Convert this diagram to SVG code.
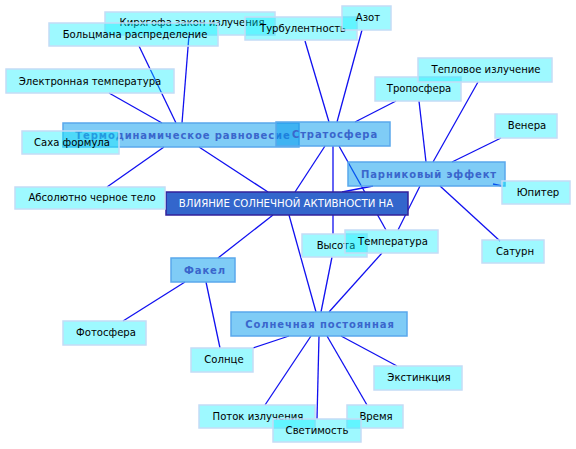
<svg xmlns="http://www.w3.org/2000/svg" width="576" height="449" viewBox="0 0 576 449">
<style>
.leaf{fill:#00eeff;fill-opacity:0.38;stroke:#c4dcf6;stroke-width:1.5}
.cat{fill:#0099ee;fill-opacity:0.5;stroke:#5aa8ec;stroke-width:1.5}
.ctr{fill:#3366cc;stroke:#33229a;stroke-width:1.5}
text{font-family:"DejaVu Sans","Liberation Sans",sans-serif;text-anchor:middle}
.lt{font-size:10.1px;fill:#000}
.ct{font-size:10px;font-weight:bold;fill:#3a66cc;letter-spacing:0.9px}
.mt{font-size:10.2px;fill:#fff}
#edges line{stroke:#1010f0;stroke-width:1.3}
</style>
<rect width="576" height="449" fill="#fff"/>
<g id="edges">
<line x1="139" y1="46" x2="176" y2="123"/>
<line x1="189" y1="35" x2="182" y2="123"/>
<line x1="109" y1="93" x2="162" y2="123"/>
<line x1="164" y1="147" x2="107" y2="187"/>
<line x1="199" y1="147" x2="268" y2="192"/>
<line x1="305" y1="41" x2="329" y2="122"/>
<line x1="362" y1="30" x2="337" y2="122"/>
<line x1="396" y1="101" x2="355" y2="122"/>
<line x1="325" y1="146" x2="295" y2="192"/>
<line x1="333" y1="146" x2="333" y2="234"/>
<line x1="339" y1="146" x2="386" y2="230"/>
<line x1="419" y1="101" x2="426" y2="162"/>
<line x1="478" y1="82" x2="433" y2="162"/>
<line x1="501" y1="138" x2="452" y2="162"/>
<line x1="493" y1="184" x2="502" y2="186"/>
<line x1="373" y1="186" x2="342" y2="192"/>
<line x1="440" y1="186" x2="500" y2="241"/>
<line x1="420" y1="186" x2="398" y2="230"/>
<line x1="273" y1="215" x2="218" y2="258"/>
<line x1="289" y1="215" x2="316" y2="312"/>
<line x1="332" y1="257" x2="321" y2="312"/>
<line x1="382" y1="253" x2="329" y2="312"/>
<line x1="289" y1="336" x2="253" y2="348"/>
<line x1="311" y1="336" x2="265" y2="405"/>
<line x1="319" y1="336" x2="317" y2="419"/>
<line x1="327" y1="336" x2="367" y2="405"/>
<line x1="341" y1="336" x2="397" y2="366"/>
<line x1="185" y1="282" x2="123" y2="321"/>
<line x1="206" y1="282" x2="220" y2="348"/>
</g>
<g id="n-thermo"><rect class="cat" x="63" y="123" width="236" height="24"/><text class="ct" x="183" y="138.5">Термодинамическое равновесие</text></g>
<g id="n-strat"><rect class="cat" x="276" y="122" width="114" height="24"/><text class="ct" x="335" y="137.5">Стратосфера</text></g>
<g id="n-green"><rect class="cat" x="348" y="162" width="157" height="24"/><text class="ct" x="429" y="177.5">Парниковый эффект</text></g>
<g id="n-fakel"><rect class="cat" x="171" y="258" width="64" height="24"/><text class="ct" x="205" y="273.5">Факел</text></g>
<g id="n-const"><rect class="cat" x="231" y="312" width="176" height="24"/><text class="ct" x="320" y="327.5">Солнечная постоянная</text></g>
<g id="n-center"><rect class="ctr" x="166" y="192" width="242" height="23"/><text class="mt" x="286" y="207">ВЛИЯНИЕ СОЛНЕЧНОЙ АКТИВНОСТИ НА</text></g>
<g id="n-kirch"><rect class="leaf" x="105" y="12" width="170" height="23"/><text class="lt" x="192" y="26">Кирхгофа закон излучения</text></g>
<g id="n-boltz"><rect class="leaf" x="49" y="23" width="169" height="23"/><text class="lt" x="135" y="38">Больцмана распределение</text></g>
<g id="n-turb"><rect class="leaf" x="245" y="17" width="112" height="23"/><text class="lt" x="303" y="32">Турбулентность</text></g>
<g id="n-azot"><rect class="leaf" x="342" y="6" width="49" height="24"/><text class="lt" x="368" y="21">Азот</text></g>
<g id="n-elec"><rect class="leaf" x="6" y="69" width="168" height="24"/><text class="lt" x="90" y="85">Электронная температура</text></g>
<g id="n-saha"><rect class="leaf" x="22" y="131" width="97" height="23"/><text class="lt" x="72" y="146">Саха формула</text></g>
<g id="n-abs"><rect class="leaf" x="15" y="187" width="150" height="22"/><text class="lt" x="92" y="201">Абсолютно черное тело</text></g>
<g id="n-tropo"><rect class="leaf" x="375" y="77" width="86" height="24"/><text class="lt" x="419" y="92">Тропосфера</text></g>
<g id="n-teplo"><rect class="leaf" x="418" y="58" width="134" height="24"/><text class="lt" x="486" y="73">Тепловое излучение</text></g>
<g id="n-venus"><rect class="leaf" x="495" y="114" width="62" height="24"/><text class="lt" x="527" y="129">Венера</text></g>
<g id="n-jup"><rect class="leaf" x="502" y="181" width="68" height="23"/><text class="lt" x="538" y="196">Юпитер</text></g>
<g id="n-sat"><rect class="leaf" x="482" y="240" width="62" height="23"/><text class="lt" x="515" y="255">Сатурн</text></g>
<g id="n-height"><rect class="leaf" x="302" y="234" width="65" height="23"/><text class="lt" x="336" y="249">Высота</text></g>
<g id="n-temp"><rect class="leaf" x="345" y="230" width="93" height="23"/><text class="lt" x="393" y="245">Температура</text></g>
<g id="n-ext"><rect class="leaf" x="374" y="366" width="88" height="24"/><text class="lt" x="419" y="381">Экстинкция</text></g>
<g id="n-time"><rect class="leaf" x="347" y="405" width="56" height="23"/><text class="lt" x="376" y="420">Время</text></g>
<g id="n-flux"><rect class="leaf" x="199" y="405" width="116" height="23"/><text class="lt" x="258" y="420">Поток излучения</text></g>
<g id="n-lum"><rect class="leaf" x="273" y="419" width="88" height="23"/><text class="lt" x="317" y="434">Светимость</text></g>
<g id="n-photo"><rect class="leaf" x="63" y="321" width="83" height="24"/><text class="lt" x="106" y="336">Фотосфера</text></g>
<g id="n-sun"><rect class="leaf" x="191" y="348" width="62" height="24"/><text class="lt" x="224" y="363">Солнце</text></g>
</svg>
